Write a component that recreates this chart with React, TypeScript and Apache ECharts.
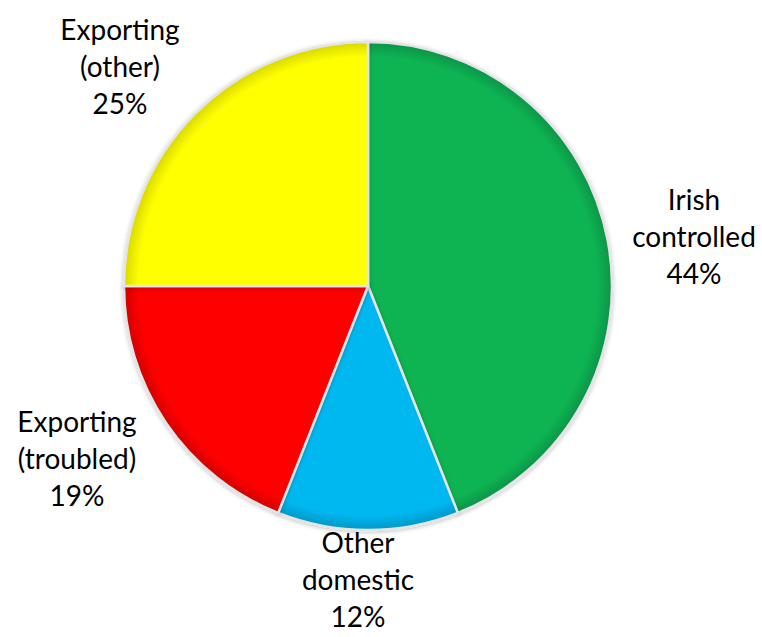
import React, { useEffect, useRef } from "react";
import * as echarts from "echarts";

const categories = ["Irish\ncontrolled", "Other\ndomestic", "Exporting\n(troubled)", "Exporting\n(other)"];
const values = [44, 12, 19, 25];
const colors = ["#0BB451", "#00B8F0", "#FF0000", "#FFFF00"];
const edgeColors = ["#07934A", "#0098C8", "#D00000", "#D8D800"];
const labelPos = [
  [694, 236],
  [358, 579],
  [77, 458],
  [120, 66],
];

const CX = 368;
const CY = 286;
const R = 244;

export default function App() {
  const ref = useRef<HTMLDivElement>(null);
  useEffect(() => {
    const chart = echarts.init(ref.current!, undefined, { renderer: "svg" });
    chart.setOption({
      animation: false,
      backgroundColor: "#ffffff",
      series: [
        {
          type: "pie",
          center: [CX, CY],
          radius: R,
          startAngle: 90,
          clockwise: true,
          data: categories.map((name, i) => ({
            name,
            value: values[i],
            itemStyle: {
              color: new echarts.graphic.RadialGradient(
                CX,
                CY,
                R,
                [
                  { offset: 0, color: colors[i] },
                  { offset: 0.94, color: colors[i] },
                  { offset: 1, color: edgeColors[i] },
                ],
                true
              ),
            },
          })),
          itemStyle: {
            borderColor: "#e4e4e4",
            borderWidth: 2.5,
            shadowBlur: 4,
            shadowColor: "rgba(0,0,0,0.25)",
            shadowOffsetY: 1,
          },
          label: {
            show: true,
            position: "outside",
            formatter: (p: any) => `${p.name}\n${p.value}%`,
            fontFamily: "Lato, 'Open Sans', sans-serif",
            fontSize: 28,
            lineHeight: 37,
            color: "#000000",
            align: "center",
            overflow: "none",
          },
          labelLine: { show: false },
          labelLayout: (params: any) => ({
            x: labelPos[params.dataIndex][0],
            y: labelPos[params.dataIndex][1],
            align: "center",
            verticalAlign: "middle",
          }),
          emphasis: { disabled: true },
        },
      ],
    });
    return () => chart.dispose();
  }, []);
  return (
    <div
      ref={ref}
      style={{ position: "fixed", left: 0, top: 0, width: 762, height: 637 }}
    />
  );
}
